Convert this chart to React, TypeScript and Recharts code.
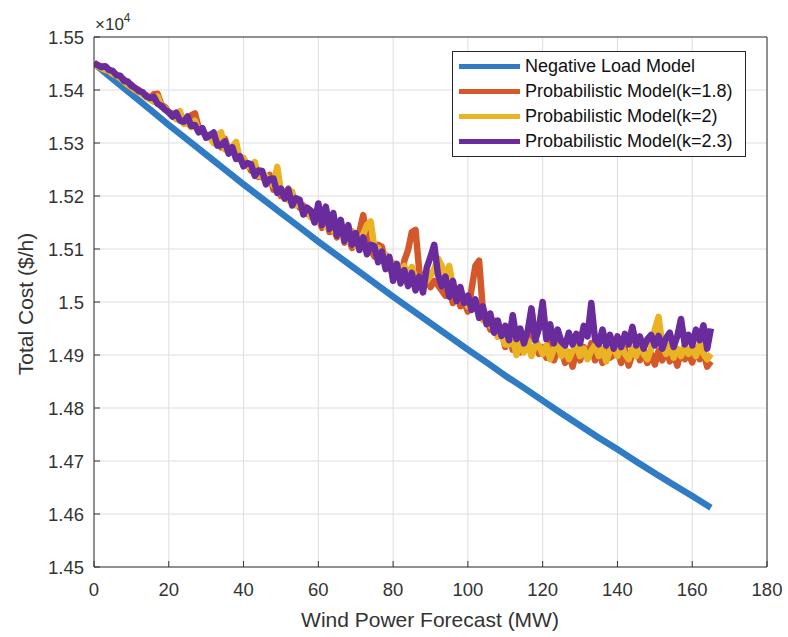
import React from "react";
import { CartesianGrid, Legend, Line, LineChart, XAxis, YAxis } from "recharts";

const xTicks = [0, 20, 40, 60, 80, 100, 120, 140, 160, 180];
const yTicks = [14500, 14600, 14700, 14800, 14900, 15000, 15100, 15200, 15300, 15400, 15500];

// Negative load model, one reading every 5 MW (0..165)
const negativeX = [0, 5, 10, 15, 20, 25, 30, 35, 40, 45, 50, 55, 60, 65, 70, 75, 80, 85, 90, 95, 100, 105, 110, 115, 120, 125, 130, 135, 140, 145, 150, 155, 160, 165];
const negativeLoad = [
  15450, 15421, 15392, 15363, 15334, 15306, 15278, 15250, 15222, 15195,
  15168, 15141, 15114, 15088, 15062, 15036, 15010, 14985, 14960, 14935,
  14910, 14886, 14861, 14838, 14814, 14790, 14767, 14744, 14722, 14699,
  14677, 14655, 14634, 14612
];

// Probabilistic models, one reading per MW (0..165)
const probX = [
  0, 1, 2, 3, 4, 5, 6, 7, 8, 9, 10, 11, 12, 13, 14, 15, 16, 17, 18, 19,
  20, 21, 22, 23, 24, 25, 26, 27, 28, 29, 30, 31, 32, 33, 34, 35, 36, 37, 38, 39,
  40, 41, 42, 43, 44, 45, 46, 47, 48, 49, 50, 51, 52, 53, 54, 55, 56, 57, 58, 59,
  60, 61, 62, 63, 64, 65, 66, 67, 68, 69, 70, 71, 72, 73, 74, 75, 76, 77, 78, 79,
  80, 81, 82, 83, 84, 85, 86, 87, 88, 89, 90, 91, 92, 93, 94, 95, 96, 97, 98, 99,
  100, 101, 102, 103, 104, 105, 106, 107, 108, 109, 110, 111, 112, 113, 114, 115, 116, 117, 118, 119,
  120, 121, 122, 123, 124, 125, 126, 127, 128, 129, 130, 131, 132, 133, 134, 135, 136, 137, 138, 139,
  140, 141, 142, 143, 144, 145, 146, 147, 148, 149, 150, 151, 152, 153, 154, 155, 156, 157, 158, 159,
  160, 161, 162, 163, 164, 165
];

const probK18 = [
  15452, 15446, 15445, 15440, 15438, 15433, 15428, 15424, 15420, 15412,
  15410, 15402, 15400, 15393, 15390, 15384, 15392, 15393, 15372, 15368,
  15358, 15356, 15348, 15350, 15340, 15342, 15352, 15356, 15328, 15324,
  15314, 15316, 15302, 15306, 15292, 15308, 15286, 15290, 15276, 15274,
  15260, 15262, 15248, 15252, 15236, 15240, 15226, 15240, 15212, 15218,
  15200, 15206, 15214, 15188, 15192, 15178, 15182, 15166, 15172, 15152,
  15158, 15140, 15164, 15132, 15140, 15122, 15145, 15112, 15126, 15102,
  15115, 15132, 15164, 15118, 15100, 15086, 15108, 15104, 15068, 15066,
  15052, 15062, 15040, 15078, 15098, 15132, 15136, 15058, 15035, 15050,
  15028, 15040, 15032, 15022, 15012, 15025, 14998, 15022, 14992, 15000,
  14982, 15025, 15068, 15078, 14985, 14970, 14948, 14965, 14935, 14945,
  14915, 14940, 14910, 14930, 14905, 14940, 14915, 14985, 14935, 14902,
  14915, 14895, 14925, 14890, 14910, 14912, 14885, 14905, 14878, 14908,
  14890, 14915, 14895, 14922, 14890, 14910, 14885, 14912, 14895, 14900,
  14908, 14885, 14912, 14880, 14902, 14915, 14890, 14908, 14885, 14902,
  14882, 14908, 14890, 14912, 14888, 14905, 14880, 14908, 14892, 14902,
  14886, 14912, 14892, 14906, 14878, 14888
];

const probK2 = [
  15448, 15445, 15441, 15438, 15436, 15430, 15427, 15422, 15416, 15410,
  15405, 15400, 15396, 15392, 15386, 15382, 15378, 15388, 15368, 15366,
  15356, 15352, 15345, 15360, 15336, 15338, 15330, 15342, 15322, 15322,
  15310, 15312, 15300, 15314, 15320, 15288, 15290, 15292, 15302, 15268,
  15272, 15256, 15255, 15264, 15238, 15240, 15238, 15230, 15220, 15255,
  15208, 15204, 15192, 15208, 15182, 15186, 15172, 15176, 15160, 15166,
  15152, 15156, 15142, 15160, 15135, 15138, 15125, 15140, 15115, 15134,
  15106, 15120, 15128, 15145, 15152, 15102, 15102, 15086, 15090, 15074,
  15074, 15058, 15062, 15068, 15048, 15066, 15042, 15048, 15045, 15040,
  15050, 15062, 15082, 15068, 15045, 15068, 15028, 15026, 15008, 15006,
  14992, 14996, 14998, 14982, 14966, 14978, 14955, 14954, 14935, 14940,
  14920, 14920, 14932, 14900, 14925, 14905, 14928, 14898, 14918, 14918,
  14902, 14918, 14892, 14912, 14922, 14898, 14912, 14892, 14908, 14918,
  14898, 14912, 14892, 14908, 14918, 14898, 14912, 14888, 14908, 14914,
  14898, 14918, 14902, 14892, 14912, 14898, 14922, 14902, 14892, 14912,
  14948, 14972, 14918, 14902, 14918, 14895, 14912, 14898, 14918, 14902,
  14912, 14898, 14922, 14902, 14892, 14902
];

const probK23 = [
  15450, 15447, 15443, 15445, 15438, 15436, 15428, 15427, 15417, 15416,
  15408, 15404, 15398, 15396, 15388, 15385, 15387, 15374, 15370, 15363,
  15358, 15350, 15357, 15342, 15340, 15350, 15332, 15334, 15320, 15328,
  15310, 15314, 15320, 15295, 15296, 15303, 15280, 15292, 15270, 15275,
  15256, 15262, 15260, 15238, 15248, 15247, 15222, 15232, 15233, 15206,
  15214, 15195, 15212, 15182, 15196, 15193, 15165, 15178, 15172, 15150,
  15186, 15145, 15180, 15138, 15168, 15125, 15155, 15115, 15145, 15108,
  15130, 15098, 15122, 15090, 15108, 15105, 15075, 15095, 15062, 15085,
  15040, 15072, 15035, 15060, 15030, 15055, 15022, 15048, 15018, 15065,
  15085, 15108, 15052, 15030, 15048, 15010, 15040, 15002, 15028, 14998,
  15012, 14985, 15005, 14970, 14992, 14958, 14978, 14942, 14965, 14936,
  14955, 14928, 14975, 14930, 14950, 14922, 14945, 14988, 14928, 14950,
  15000, 14930, 14958, 14922, 14948, 14925, 14918, 14942, 14920, 14940,
  14922, 14955, 14935, 14998, 14930, 14920, 14948, 14918, 14938, 14912,
  14935, 14915, 14940, 14920, 14953, 14918, 14935, 14912, 14930, 14938,
  14918, 14936, 14912, 14932, 14942, 14915, 14935, 14968, 14920, 14938,
  14918, 14948, 14928, 14956, 14912, 14950
];

const series = [
  { key: "neg", name: "Negative Load Model", color: "#2f7bc4", xs: negativeX, ys: negativeLoad },
  { key: "k18", name: "Probabilistic Model(k=1.8)", color: "#d5582a", xs: probX, ys: probK18 },
  { key: "k2", name: "Probabilistic Model(k=2)", color: "#e9b324", xs: probX, ys: probK2 },
  { key: "k23", name: "Probabilistic Model(k=2.3)", color: "#6a2c9c", xs: probX, ys: probK23 }
];

const FONT = "'Liberation Sans', Arial, sans-serif";
const INK = "#333";

function LegendBox(): JSX.Element {
  return (
    <div style={{ border: "1px solid #262626", background: "#fff", padding: "2px 0", fontFamily: FONT, fontSize: 18, color: "#111" }}>
      {series.map((s) => (
        <div key={s.key} style={{ display: "flex", alignItems: "center", height: 25 }}>
          <span style={{ marginLeft: 6, width: 61, height: 5, background: s.color }} />
          <span style={{ marginLeft: 5, whiteSpace: "nowrap" }}>{s.name}</span>
        </div>
      ))}
    </div>
  );
}

export default function App(): JSX.Element {
  const tickStyle = { fill: INK, fontSize: 18.5, fontFamily: FONT };

  return (
    <div style={{ position: "absolute", left: 0, top: 0, width: 788, height: 637, background: "#fff" }}>
      <LineChart width={788} height={637} margin={{ top: 0, right: 0, bottom: 0, left: 0 }}>
        <CartesianGrid stroke="#dedede" />
        <XAxis
          dataKey="x"
          type="number"
          domain={[0, 180]}
          ticks={xTicks}
          height={70}
          stroke={INK}
          tickSize={-6}
          tickMargin={22}
          tick={tickStyle}
          allowDataOverflow
        />
        <XAxis xAxisId="top" orientation="top" type="number" domain={[0, 180]} ticks={xTicks} height={37} stroke={INK} tickSize={-6} tick={false} allowDataOverflow />
        <YAxis
          type="number"
          domain={[14500, 15500]}
          ticks={yTicks}
          width={94}
          stroke={INK}
          tickSize={-6}
          tickMargin={16}
          tick={tickStyle}
          tickFormatter={(v: number) => String(+(v / 10000).toFixed(2))}
          allowDataOverflow
        />
        <YAxis yAxisId="right" orientation="right" type="number" domain={[14500, 15500]} ticks={yTicks} width={21} stroke={INK} tickSize={-6} tick={false} allowDataOverflow />
        {series.map((s) => (
          <Line
            key={s.key}
            data={s.xs.map((x, i) => ({ x, y: s.ys[i] }))}
            dataKey="y"
            name={s.name}
            type="linear"
            stroke={s.color}
            strokeWidth={6.5}
            strokeLinejoin="round"
            dot={false}
            activeDot={false}
            isAnimationActive={false}
          />
        ))}
        <Legend
          layout="horizontal"
          verticalAlign="middle"
          align="center"
          wrapperStyle={{ left: 452, top: 51, width: 294, height: "auto" }}
          content={() => <LegendBox />}
        />
      </LineChart>

      {/* exponent note above the y axis */}
      <div style={{ position: "absolute", left: 95, top: 16, fontFamily: FONT, fontSize: 17, color: INK, lineHeight: 1 }}>
        ×10<span style={{ fontSize: 12, position: "relative", top: -8 }}>4</span>
      </div>
      <div style={{ position: "absolute", left: 430, top: 620, transform: "translate(-50%, -50%)", fontFamily: FONT, fontSize: 21, color: INK, whiteSpace: "nowrap" }}>
        Wind Power Forecast (MW)
      </div>
      <div style={{ position: "absolute", left: 26, top: 304, transform: "translate(-50%, -50%) rotate(-90deg)", fontFamily: FONT, fontSize: 21, color: INK, whiteSpace: "nowrap" }}>
        Total Cost ($/h)
      </div>
    </div>
  );
}
